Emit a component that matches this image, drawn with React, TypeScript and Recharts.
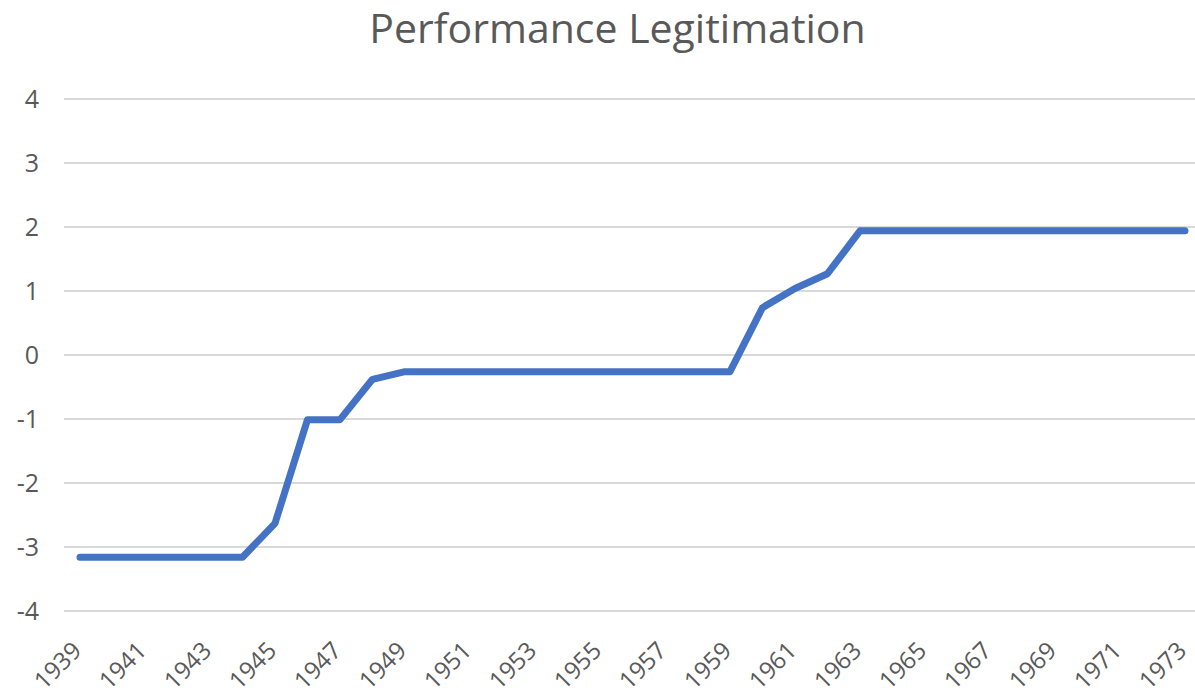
import { LineChart, Line, XAxis, YAxis, CartesianGrid } from "recharts"

const years = [
  1939, 1940, 1941, 1942, 1943, 1944, 1945, 1946, 1947, 1948, 1949, 1950, 1951, 1952, 1953, 1954, 1955, 1956,
  1957, 1958, 1959, 1960, 1961, 1962, 1963, 1964, 1965, 1966, 1967, 1968, 1969, 1970, 1971, 1972, 1973,
]
const legitimation = [
  -3.16, -3.16, -3.16, -3.16, -3.16, -3.16, -2.63, -1.01, -1.01, -0.38, -0.26, -0.26, -0.26, -0.26, -0.26, -0.26,
  -0.26, -0.26, -0.26, -0.26, -0.26, 0.74, 1.04, 1.27, 1.94, 1.94, 1.94, 1.94, 1.94, 1.94, 1.94, 1.94, 1.94, 1.94,
  1.94,
]
const yTicks = [-4, -3, -2, -1, 0, 1, 2, 3, 4]

const data = years.map((y, i) => ({ year: String(y), value: legitimation[i] }))

const FONT = "'Open Sans', 'Noto Sans', sans-serif"
const GREY = "#595959"

// every other year, rotated like the Excel axis
function YearTick({ x, y, payload, index }: any) {
  if (index % 2 !== 0) return null
  const ex = x + 3
  const ey = y + 33
  return (
    <text
      x={ex}
      y={ey}
      transform={`rotate(-45, ${ex}, ${ey})`}
      textAnchor="end"
      fill={GREY}
      fontSize={24}
      fontFamily={FONT}
    >
      {payload.value}
    </text>
  )
}

export default function App() {
  return (
    <div style={{ width: 1195, height: 698, background: "#fff", position: "relative", overflow: "hidden" }}>
      <style>{"body{margin:0}"}</style>
      <div
        style={{
          position: "absolute",
          top: 0,
          left: 0,
          width: 1235,
          height: 54,
          lineHeight: "54px",
          textAlign: "center",
          fontFamily: FONT,
          fontSize: 41,
          color: GREY,
          whiteSpace: "nowrap",
        }}
      >
        Performance Legitimation
      </div>
      <LineChart width={1205} height={698} data={data} margin={{ top: 99, right: 0, bottom: 0, left: 0 }}>
        <CartesianGrid vertical={false} stroke="#d9d9d9" strokeWidth={2} />
        <XAxis
          dataKey="year"
          interval={0}
          tick={<YearTick />}
          axisLine={false}
          tickLine={false}
          padding={{ left: 16, right: 20 }}
          height={87}
        />
        <YAxis
          domain={[-4, 4]}
          ticks={yTicks}
          interval={0}
          axisLine={false}
          tickLine={false}
          width={64}
          tick={{ fill: GREY, fontSize: 25, fontFamily: FONT, dx: -17 }}
        />
        <Line
          type="linear"
          dataKey="value"
          stroke="#4472c4"
          strokeWidth={7}
          strokeLinejoin="round"
          strokeLinecap="round"
          dot={false}
          isAnimationActive={false}
        />
      </LineChart>
    </div>
  )
}
